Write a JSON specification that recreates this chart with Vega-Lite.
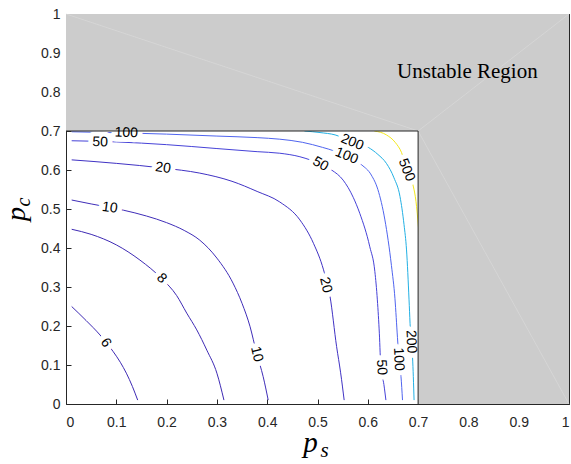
{
  "$schema": "https://vega.github.io/schema/vega-lite/v6.json",
  "width": 503,
  "height": 390,
  "autosize": {"type": "none"},
  "padding": {"left": 66, "top": 14, "right": 2, "bottom": 60},
  "background": "white",
  "config": {
    "view": {"stroke": null},
    "axis": {
      "grid": false,
      "zindex": 1,
      "domainColor": "#262626",
      "domainWidth": 1,
      "tickColor": "#262626",
      "tickWidth": 1,
      "tickSize": -5,
      "labelColor": "#262626",
      "labelFont": "Liberation Sans",
      "labelFontSize": 14,
      "title": null
    },
    "text": {"font": "Liberation Sans", "fontSize": 14, "align": "center", "baseline": "middle"}
  },
  "datasets": {
    "region": [
      {"x": 0, "x2": 1, "y": 0.7, "y2": 1},
      {"x": 0.7, "x2": 1, "y": 0, "y2": 0.7}
    ],
    "tri": [
      {"x": 0, "y": 1, "x2": 0.7, "y2": 0.7},
      {"x": 0.7, "y": 0.7, "x2": 1, "y2": 1},
      {"x": 0.7, "y": 0.7, "x2": 1, "y2": 0}
    ],
    "edge": [
      {"x": 0, "y": 0.7, "x2": 0.7, "y2": 0.7},
      {"x": 0.7, "y": 0, "x2": 0.7, "y2": 0.7}
    ],
    "contours": [
      {"level": 6, "i": 0, "x": 0.0113, "y": 0.25},
      {"level": 6, "i": 1, "x": 0.04, "y": 0.214},
      {"level": 6, "i": 2, "x": 0.0676, "y": 0.177},
      {"level": 6, "i": 3, "x": 0.094, "y": 0.134},
      {"level": 6, "i": 4, "x": 0.108, "y": 0.107},
      {"level": 6, "i": 5, "x": 0.12, "y": 0.079},
      {"level": 6, "i": 6, "x": 0.132, "y": 0.045},
      {"level": 6, "i": 7, "x": 0.1425, "y": 0.01},

      {"level": 8, "i": 0, "x": 0.0113, "y": 0.448},
      {"level": 8, "i": 1, "x": 0.05, "y": 0.435},
      {"level": 8, "i": 2, "x": 0.1, "y": 0.408},
      {"level": 8, "i": 3, "x": 0.147, "y": 0.369},
      {"level": 8, "i": 4, "x": 0.19, "y": 0.322},
      {"level": 8, "i": 5, "x": 0.22, "y": 0.278},
      {"level": 8, "i": 6, "x": 0.24, "y": 0.233},
      {"level": 8, "i": 7, "x": 0.26, "y": 0.19},
      {"level": 8, "i": 8, "x": 0.28, "y": 0.138},
      {"level": 8, "i": 9, "x": 0.3, "y": 0.079},
      {"level": 8, "i": 10, "x": 0.314, "y": 0.01},

      {"level": 10, "i": 0, "x": 0.0113, "y": 0.523},
      {"level": 10, "i": 1, "x": 0.05, "y": 0.513},
      {"level": 10, "i": 2, "x": 0.114, "y": 0.497},
      {"level": 10, "i": 3, "x": 0.16, "y": 0.482},
      {"level": 10, "i": 4, "x": 0.2, "y": 0.465},
      {"level": 10, "i": 5, "x": 0.235, "y": 0.445},
      {"level": 10, "i": 6, "x": 0.266, "y": 0.42},
      {"level": 10, "i": 7, "x": 0.3, "y": 0.374},
      {"level": 10, "i": 8, "x": 0.332, "y": 0.31},
      {"level": 10, "i": 9, "x": 0.35, "y": 0.258},
      {"level": 10, "i": 10, "x": 0.366, "y": 0.198},
      {"level": 10, "i": 11, "x": 0.379, "y": 0.13},
      {"level": 10, "i": 12, "x": 0.392, "y": 0.07},
      {"level": 10, "i": 13, "x": 0.402, "y": 0.01},

      {"level": 20, "i": 0, "x": 0.0113, "y": 0.626},
      {"level": 20, "i": 1, "x": 0.1, "y": 0.617},
      {"level": 20, "i": 2, "x": 0.193, "y": 0.605},
      {"level": 20, "i": 3, "x": 0.266, "y": 0.592},
      {"level": 20, "i": 4, "x": 0.33, "y": 0.571},
      {"level": 20, "i": 5, "x": 0.38, "y": 0.545},
      {"level": 20, "i": 6, "x": 0.425, "y": 0.518},
      {"level": 20, "i": 7, "x": 0.465, "y": 0.472},
      {"level": 20, "i": 8, "x": 0.492, "y": 0.412},
      {"level": 20, "i": 9, "x": 0.512, "y": 0.344},
      {"level": 20, "i": 10, "x": 0.525, "y": 0.275},
      {"level": 20, "i": 11, "x": 0.538, "y": 0.147},
      {"level": 20, "i": 12, "x": 0.546, "y": 0.08},
      {"level": 20, "i": 13, "x": 0.553, "y": 0.01},

      {"level": 50, "i": 0, "x": 0.0113, "y": 0.675},
      {"level": 50, "i": 1, "x": 0.1, "y": 0.672},
      {"level": 50, "i": 2, "x": 0.2, "y": 0.665},
      {"level": 50, "i": 3, "x": 0.3, "y": 0.655},
      {"level": 50, "i": 4, "x": 0.38, "y": 0.647},
      {"level": 50, "i": 5, "x": 0.425, "y": 0.643},
      {"level": 50, "i": 6, "x": 0.465, "y": 0.634},
      {"level": 50, "i": 7, "x": 0.506, "y": 0.615},
      {"level": 50, "i": 8, "x": 0.528, "y": 0.6},
      {"level": 50, "i": 9, "x": 0.551, "y": 0.574},
      {"level": 50, "i": 10, "x": 0.571, "y": 0.53},
      {"level": 50, "i": 11, "x": 0.584, "y": 0.489},
      {"level": 50, "i": 12, "x": 0.604, "y": 0.403},
      {"level": 50, "i": 13, "x": 0.614, "y": 0.34},
      {"level": 50, "i": 14, "x": 0.619, "y": 0.267},
      {"level": 50, "i": 15, "x": 0.623, "y": 0.18},
      {"level": 50, "i": 16, "x": 0.626, "y": 0.094},
      {"level": 50, "i": 17, "x": 0.632, "y": 0.05},
      {"level": 50, "i": 18, "x": 0.636, "y": 0.01},

      {"level": 100, "i": 0, "x": 0.0113, "y": 0.698},
      {"level": 100, "i": 1, "x": 0.048, "y": 0.697},
      {"level": 100, "i": 2, "x": 0.12, "y": 0.695},
      {"level": 100, "i": 3, "x": 0.2, "y": 0.692},
      {"level": 100, "i": 4, "x": 0.3, "y": 0.687},
      {"level": 100, "i": 5, "x": 0.38, "y": 0.683},
      {"level": 100, "i": 6, "x": 0.425, "y": 0.679},
      {"level": 100, "i": 7, "x": 0.47, "y": 0.671},
      {"level": 100, "i": 8, "x": 0.51, "y": 0.658},
      {"level": 100, "i": 9, "x": 0.535, "y": 0.648},
      {"level": 100, "i": 10, "x": 0.558, "y": 0.635},
      {"level": 100, "i": 11, "x": 0.588, "y": 0.613},
      {"level": 100, "i": 12, "x": 0.607, "y": 0.587},
      {"level": 100, "i": 13, "x": 0.62, "y": 0.55},
      {"level": 100, "i": 14, "x": 0.634, "y": 0.472},
      {"level": 100, "i": 15, "x": 0.647, "y": 0.355},
      {"level": 100, "i": 16, "x": 0.654, "y": 0.27},
      {"level": 100, "i": 17, "x": 0.659, "y": 0.17},
      {"level": 100, "i": 18, "x": 0.662, "y": 0.115},
      {"level": 100, "i": 19, "x": 0.666, "y": 0.07},
      {"level": 100, "i": 20, "x": 0.669, "y": 0.01},

      {"level": 200, "i": 0, "x": 0.474, "y": 0.7},
      {"level": 200, "i": 1, "x": 0.505, "y": 0.696},
      {"level": 200, "i": 2, "x": 0.535, "y": 0.69},
      {"level": 200, "i": 3, "x": 0.569, "y": 0.672},
      {"level": 200, "i": 4, "x": 0.601, "y": 0.658},
      {"level": 200, "i": 5, "x": 0.62, "y": 0.64},
      {"level": 200, "i": 6, "x": 0.637, "y": 0.617},
      {"level": 200, "i": 7, "x": 0.652, "y": 0.58},
      {"level": 200, "i": 8, "x": 0.664, "y": 0.532},
      {"level": 200, "i": 9, "x": 0.672, "y": 0.46},
      {"level": 200, "i": 10, "x": 0.677, "y": 0.395},
      {"level": 200, "i": 11, "x": 0.682, "y": 0.267},
      {"level": 200, "i": 12, "x": 0.684, "y": 0.207},
      {"level": 200, "i": 13, "x": 0.686, "y": 0.16},
      {"level": 200, "i": 14, "x": 0.689, "y": 0.118},
      {"level": 200, "i": 15, "x": 0.692, "y": 0.01},

      {"level": 500, "i": 0, "x": 0.613, "y": 0.7},
      {"level": 500, "i": 1, "x": 0.637, "y": 0.69},
      {"level": 500, "i": 2, "x": 0.655, "y": 0.67},
      {"level": 500, "i": 3, "x": 0.667, "y": 0.645},
      {"level": 500, "i": 4, "x": 0.677, "y": 0.605},
      {"level": 500, "i": 5, "x": 0.687, "y": 0.575},
      {"level": 500, "i": 6, "x": 0.697, "y": 0.506},
      {"level": 500, "i": 7, "x": 0.702, "y": 0.433}
    ],
    "labels": [
      {"id": "a", "text": "100", "x": 0.12, "y": 0.695},
      {"id": "b", "text": "50", "x": 0.068, "y": 0.671},
      {"id": "c", "text": "20", "x": 0.193, "y": 0.605},
      {"id": "d", "text": "10", "x": 0.087, "y": 0.503},
      {"id": "e", "text": "8", "x": 0.19, "y": 0.322},
      {"id": "f", "text": "6", "x": 0.079, "y": 0.157},
      {"id": "g", "text": "10", "x": 0.379, "y": 0.128},
      {"id": "h", "text": "20", "x": 0.516, "y": 0.305},
      {"id": "i", "text": "50", "x": 0.627, "y": 0.094},
      {"id": "j", "text": "100", "x": 0.661, "y": 0.115},
      {"id": "k", "text": "200", "x": 0.686, "y": 0.16},
      {"id": "l", "text": "50", "x": 0.506, "y": 0.615},
      {"id": "m", "text": "100", "x": 0.558, "y": 0.636},
      {"id": "n", "text": "200", "x": 0.569, "y": 0.671},
      {"id": "o", "text": "500", "x": 0.677, "y": 0.6}
    ],
    "notes": [
      {"text": "Unstable Region", "x": 0.798, "y": 0.835}
    ],
    "titles": [
      {"k": "xp", "text": "p", "x": 0.486, "y": -0.123},
      {"k": "xs", "text": "s", "x": 0.514, "y": -0.136},
      {"k": "yp", "text": "p", "x": -0.081, "y": 0.487},
      {"k": "yc", "text": "c", "x": -0.0725, "y": 0.518}
    ]
  },
  "encoding": {
    "x": {"field": "x", "type": "quantitative", "scale": {"domain": [0, 1], "nice": false, "zero": false}, "axis": null},
    "y": {"field": "y", "type": "quantitative", "scale": {"domain": [0, 1], "nice": false, "zero": false}, "axis": null}
  },
  "layer": [
    {
      "data": {"name": "contours"},
      "mark": {"type": "line", "strokeWidth": 1, "interpolate": "monotone"},
      "encoding": {
        "color": {"field": "level", "type": "nominal", "legend": null,
          "scale": {"domain": [6, 8, 10, 20, 50, 100, 200, 500],
                    "range": ["#3e2ab4", "#3e2ab4", "#3f2db8", "#4032c4", "#4642d8", "#4f64ef", "#22b0e4", "#f4e81c"]}},
        "order": {"field": "i", "type": "quantitative"}
      }
    },
    {"data": {"name": "labels"}, "transform": [{"filter": {"field": "id", "oneOf": ["a", "b"]}}],
     "mark": {"type": "text", "angle": 2, "stroke": "white", "strokeWidth": 10, "fill": "white", "strokeJoin": "round"}, "encoding": {"text": {"field": "text"}}},
    {"data": {"name": "labels"}, "transform": [{"filter": {"field": "id", "oneOf": ["c", "d"]}}],
     "mark": {"type": "text", "angle": 8, "stroke": "white", "strokeWidth": 10, "fill": "white", "strokeJoin": "round"}, "encoding": {"text": {"field": "text"}}},
    {"data": {"name": "labels"}, "transform": [{"filter": {"field": "id", "oneOf": ["e"]}}],
     "mark": {"type": "text", "angle": 45, "stroke": "white", "strokeWidth": 10, "fill": "white", "strokeJoin": "round"}, "encoding": {"text": {"field": "text"}}},
    {"data": {"name": "labels"}, "transform": [{"filter": {"field": "id", "oneOf": ["f"]}}],
     "mark": {"type": "text", "angle": 57, "stroke": "white", "strokeWidth": 10, "fill": "white", "strokeJoin": "round"}, "encoding": {"text": {"field": "text"}}},
    {"data": {"name": "labels"}, "transform": [{"filter": {"field": "id", "oneOf": ["g", "h"]}}],
     "mark": {"type": "text", "angle": 77, "stroke": "white", "strokeWidth": 10, "fill": "white", "strokeJoin": "round"}, "encoding": {"text": {"field": "text"}}},
    {"data": {"name": "labels"}, "transform": [{"filter": {"field": "id", "oneOf": ["i", "j", "k"]}}],
     "mark": {"type": "text", "angle": 87, "stroke": "white", "strokeWidth": 10, "fill": "white", "strokeJoin": "round"}, "encoding": {"text": {"field": "text"}}},
    {"data": {"name": "labels"}, "transform": [{"filter": {"field": "id", "oneOf": ["l"]}}],
     "mark": {"type": "text", "angle": 30, "stroke": "white", "strokeWidth": 10, "fill": "white", "strokeJoin": "round"}, "encoding": {"text": {"field": "text"}}},
    {"data": {"name": "labels"}, "transform": [{"filter": {"field": "id", "oneOf": ["m", "n"]}}],
     "mark": {"type": "text", "angle": 22, "stroke": "white", "strokeWidth": 10, "fill": "white", "strokeJoin": "round"}, "encoding": {"text": {"field": "text"}}},
    {"data": {"name": "labels"}, "transform": [{"filter": {"field": "id", "oneOf": ["o"]}}],
     "mark": {"type": "text", "angle": 68, "stroke": "white", "strokeWidth": 10, "fill": "white", "strokeJoin": "round"}, "encoding": {"text": {"field": "text"}}},
    {
      "data": {"name": "region"},
      "mark": {"type": "rect", "color": "#cccccc", "strokeWidth": 0},
      "encoding": {
        "x": {"field": "x", "type": "quantitative", "scale": {"domain": [0, 1], "nice": false, "zero": false},
              "axis": {"orient": "bottom", "values": [0, 0.1, 0.2, 0.3, 0.4, 0.5, 0.6, 0.7, 0.8, 0.9, 1], "format": "~g", "labelPadding": 16}},
        "x2": {"field": "x2"},
        "y": {"field": "y", "type": "quantitative", "scale": {"domain": [0, 1], "nice": false, "zero": false},
              "axis": {"orient": "left", "values": [0, 0.1, 0.2, 0.3, 0.4, 0.5, 0.6, 0.7, 0.8, 0.9, 1], "format": "~g", "labelPadding": 11}},
        "y2": {"field": "y2"}
      }
    },
    {
      "data": {"name": "tri"},
      "mark": {"type": "rule", "color": "#dcdcdc", "strokeWidth": 0.6},
      "encoding": {"x2": {"field": "x2"}, "y2": {"field": "y2"}}
    },
    {
      "data": {"name": "edge"},
      "mark": {"type": "rule", "color": "#262626", "strokeWidth": 1},
      "encoding": {
        "x": {"field": "x", "type": "quantitative", "scale": {"domain": [0, 1], "nice": false, "zero": false},
              "axis": {"orient": "top", "values": [0, 0.1, 0.2, 0.3, 0.4, 0.5, 0.6, 0.7, 0.8, 0.9, 1], "labels": false}},
        "x2": {"field": "x2"},
        "y": {"field": "y", "type": "quantitative", "scale": {"domain": [0, 1], "nice": false, "zero": false},
              "axis": {"orient": "right", "values": [0, 0.1, 0.2, 0.3, 0.4, 0.5, 0.6, 0.7, 0.8, 0.9, 1], "labels": false}},
        "y2": {"field": "y2"}
      }
    },
    {"data": {"name": "labels"}, "transform": [{"filter": {"field": "id", "oneOf": ["a", "b"]}}],
     "mark": {"type": "text", "angle": 2, "color": "#000000"}, "encoding": {"text": {"field": "text"}}},
    {"data": {"name": "labels"}, "transform": [{"filter": {"field": "id", "oneOf": ["c", "d"]}}],
     "mark": {"type": "text", "angle": 8, "color": "#000000"}, "encoding": {"text": {"field": "text"}}},
    {"data": {"name": "labels"}, "transform": [{"filter": {"field": "id", "oneOf": ["e"]}}],
     "mark": {"type": "text", "angle": 45, "color": "#000000"}, "encoding": {"text": {"field": "text"}}},
    {"data": {"name": "labels"}, "transform": [{"filter": {"field": "id", "oneOf": ["f"]}}],
     "mark": {"type": "text", "angle": 57, "color": "#000000"}, "encoding": {"text": {"field": "text"}}},
    {"data": {"name": "labels"}, "transform": [{"filter": {"field": "id", "oneOf": ["g", "h"]}}],
     "mark": {"type": "text", "angle": 77, "color": "#000000"}, "encoding": {"text": {"field": "text"}}},
    {"data": {"name": "labels"}, "transform": [{"filter": {"field": "id", "oneOf": ["i", "j", "k"]}}],
     "mark": {"type": "text", "angle": 87, "color": "#000000"}, "encoding": {"text": {"field": "text"}}},
    {"data": {"name": "labels"}, "transform": [{"filter": {"field": "id", "oneOf": ["l"]}}],
     "mark": {"type": "text", "angle": 30, "color": "#000000"}, "encoding": {"text": {"field": "text"}}},
    {"data": {"name": "labels"}, "transform": [{"filter": {"field": "id", "oneOf": ["m", "n"]}}],
     "mark": {"type": "text", "angle": 22, "color": "#000000"}, "encoding": {"text": {"field": "text"}}},
    {"data": {"name": "labels"}, "transform": [{"filter": {"field": "id", "oneOf": ["o"]}}],
     "mark": {"type": "text", "angle": 68, "color": "#000000"}, "encoding": {"text": {"field": "text"}}},
    {
      "data": {"name": "notes"},
      "mark": {"type": "text", "font": "Liberation Serif", "fontSize": 21, "align": "center", "baseline": "alphabetic", "color": "#000000"},
      "encoding": {"text": {"field": "text"}}
    },
    {
      "data": {"name": "titles"},
      "transform": [{"filter": "datum.k === 'xp'"}],
      "mark": {"type": "text", "font": "Liberation Serif", "fontStyle": "italic", "fontSize": 29, "align": "center", "baseline": "alphabetic", "color": "#000000"},
      "encoding": {"text": {"field": "text"}}
    },
    {
      "data": {"name": "titles"},
      "transform": [{"filter": "datum.k === 'xs'"}],
      "mark": {"type": "text", "font": "Liberation Serif", "fontStyle": "italic", "fontSize": 21, "align": "center", "baseline": "alphabetic", "color": "#000000"},
      "encoding": {"text": {"field": "text"}}
    },
    {
      "data": {"name": "titles"},
      "transform": [{"filter": "datum.k === 'yp'"}],
      "mark": {"type": "text", "font": "Liberation Serif", "fontStyle": "italic", "fontSize": 28, "align": "center", "baseline": "alphabetic", "angle": 270, "color": "#000000"},
      "encoding": {"text": {"field": "text"}}
    },
    {
      "data": {"name": "titles"},
      "transform": [{"filter": "datum.k === 'yc'"}],
      "mark": {"type": "text", "font": "Liberation Serif", "fontStyle": "italic", "fontSize": 20, "align": "center", "baseline": "alphabetic", "angle": 270, "color": "#000000"},
      "encoding": {"text": {"field": "text"}}
    }
  ],
  "resolve": {"axis": {"x": "independent", "y": "independent"}}
}
